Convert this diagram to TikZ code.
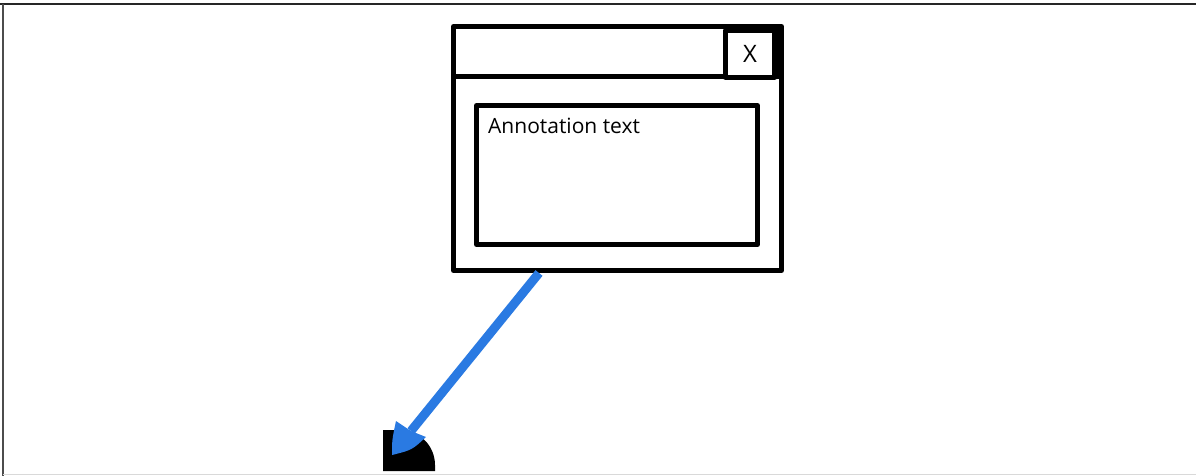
\documentclass[tikz,border=0pt]{standalone}
\usepackage{fontspec}
\setmainfont{Open Sans}
\usetikzlibrary{calc}
\definecolor{arrowblue}{HTML}{2A7AE2}
\tikzset{
  sketch/.style={draw=black, line width=5pt, line join=round, fill=white},
  frame/.style={draw=#1, line width=1.5pt},
}
\begin{document}
\begin{tikzpicture}[x=1pt,y=-1pt]
\useasboundingbox (0,0) rectangle (1196,476);
\fill[white] (0,0) rectangle (1196,476);
% frame
\draw[frame=black!85] (0,4) -- (1196,4);
\draw[frame=black!70] (3,4) -- (3,476);
\draw[frame=black!15] (3,474.5) -- (1196,474.5);
% black blob
\fill[black] (383,471) -- (383,430) -- (400,430) arc[start angle=-90, end angle=0, radius=35] -- (435,471) -- cycle;
% window
\node[sketch, minimum width=328pt, minimum height=244pt, anchor=north west, inner sep=0pt] (win) at (451,24) {};
\draw[line width=5pt] (451,77) -- (779,77);
\node[sketch, minimum width=49pt, minimum height=47pt, anchor=north west, inner sep=0pt, font=\fontsize{24}{28}\selectfont] (close) at (723,28) {X};
\draw[line width=5pt] (772,28) -- (779,28) -- (779,77);
\node[sketch, minimum width=281pt, minimum height=139pt, anchor=north west, inner sep=0pt] (inner) at (474,103) {};
\node[anchor=north west, inner sep=0pt, font=\fontsize{21}{25}\selectfont] (txt) at (488,118) {Annotation text};
% arrow
\coordinate (tip) at (392,455);
\coordinate (notch) at (411,431);
\draw[arrowblue, line width=9pt] ($(win.south west)+(88,0)$) -- (notch);
\fill[arrowblue] (tip) .. controls (392,440) .. (396,421) -- (notch) -- (426,437) .. controls (412,450) .. (tip) -- cycle;
\end{tikzpicture}
\end{document}
